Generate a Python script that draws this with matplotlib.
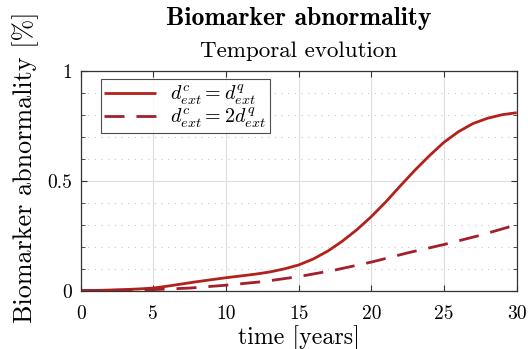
import matplotlib
matplotlib.use("Agg")
import matplotlib.pyplot as plt
from matplotlib.ticker import MultipleLocator

plt.rcParams['mathtext.fontset'] = 'cm'
plt.rcParams['font.family'] = 'serif'
plt.rcParams['font.serif'] = ['cmr10']
plt.rcParams['axes.formatter.use_mathtext'] = True

# data
t = [0, 1, 2, 3, 4, 5, 6, 7, 8, 9, 10, 11, 12, 13, 14, 15, 16, 17, 18, 19, 20,
     21, 22, 23, 24, 25, 26, 27, 28, 29, 30]
solid = [0.0, 0.001, 0.003, 0.005, 0.008, 0.012, 0.021, 0.031, 0.041, 0.050, 0.059,
         0.067, 0.075, 0.085, 0.099, 0.117, 0.144, 0.180, 0.225, 0.277, 0.337,
         0.404, 0.477, 0.548, 0.614, 0.675, 0.723, 0.760, 0.784, 0.800, 0.809]
t_d = [0, 2.5, 5, 7.5, 10, 12.5, 15, 17.5, 20, 22.5, 25, 27.5, 30]
dashed = [0.0, 0.002, 0.005, 0.012, 0.025, 0.041, 0.064, 0.094, 0.130, 0.172, 0.210,
          0.252, 0.300]
labels = [r'$d^c_{ext} = d^q_{ext}$', r'$d^c_{ext} = 2d^q_{ext}$']
xticks = [0, 5, 10, 15, 20, 25, 30]
yticks = [0, 0.5, 1]
ytick_labels = ['0', '0.5', '1']

W, H = 528, 349
fig = plt.figure(figsize=(W/100, H/100), dpi=100)
ax = fig.add_axes([80.7/W, 1 - 290.7/H, 436/W, 220/H])

ax.plot(t, solid, color='#b2221a', lw=2.0, label=labels[0], solid_capstyle='butt')
ax.plot(t_d, dashed, color='#a21f2b', lw=2.0, ls=(0, (7.2, 4.3)), label=labels[1])

ax.set_xlim(0, 30)
ax.set_ylim(0, 1)
ax.set_xticks(xticks)
ax.set_xticklabels([str(v) for v in xticks])
ax.set_yticks(yticks)
ax.set_yticklabels(ytick_labels)
ax.yaxis.set_minor_locator(MultipleLocator(0.1))

ax.grid(True, which='major', color='#dddddd', lw=0.8, ls='-')
ax.grid(True, which='minor', axis='y', color='#c8c8c8', lw=0.8, ls=(0, (1, 5)))
ax.set_axisbelow(True)

ax.tick_params(which='both', direction='in', top=True, right=True,
               labelsize=14, color='#333333')
ax.tick_params(axis='x', pad=10)
ax.tick_params(axis='y', pad=6)
ax.tick_params(which='major', length=4)
ax.tick_params(which='minor', length=3, top=False, bottom=False)
for s in ax.spines.values():
    s.set_color('#333333')
    s.set_linewidth(0.9)

ax.set_xlabel('time [years]', fontsize=17.2, labelpad=2)
ax.set_ylabel('Biomarker abnormality [%]', fontsize=18.8)
ax.yaxis.set_label_coords(-0.095, 0.562)

cx = 0.5 * (80.7 + 516.7) / W
fig.text(cx, 1 - 25/H, 'Biomarker abnormality',
         ha='center', va='baseline', fontsize=18.5, family='cmb10')
fig.text(cx, 1 - 57/H, 'Temporal evolution',
         ha='center', va='baseline', fontsize=16.6)

leg = ax.legend(loc='upper left',
                bbox_to_anchor=((101 - 80.7)/436, (290.7 - 79)/220),
                borderaxespad=0, fontsize=14.5,
                frameon=True, fancybox=False, edgecolor='#222222',
                handlelength=2.6, handletextpad=0.7, borderpad=0.15,
                labelspacing=-0.05)
leg.get_frame().set_linewidth(0.8)

fig.savefig('out.png', dpi=100)
